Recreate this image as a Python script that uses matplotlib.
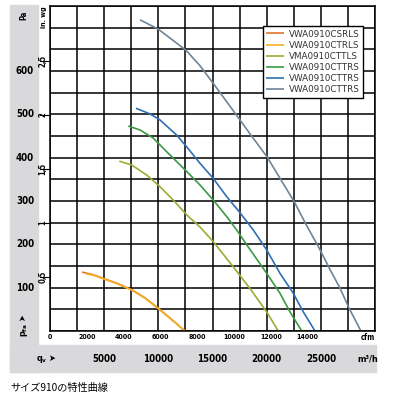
import matplotlib.pyplot as plt
from matplotlib.patches import Rectangle
import matplotlib.transforms as mtransforms

# curve data, flow in m3/h, pressure in Pa
names = ['VWA0910CSRLS', 'VWA0910CTRLS', 'VMA0910CTTLS', 'VWA0910CTTRS', 'VWA0910CTTRS', 'VWA0910CTTRS']
colors = ['#e2762b', '#f4b222', '#9cac34', '#3a9a44', '#2f6fb3', '#6f8598']

q_orange = [2950, 3970, 4980, 6300, 7570, 8800, 9970, 11170, 12460]
p_orange = [136, 130, 121, 109, 95, 76, 53, 28, 0]
q_yellow = [3300, 3970, 4980, 6300, 7570, 8800, 9970, 11170, 12460]
p_yellow = [132, 129, 120, 108, 94, 75, 52, 27, 0]
q_olive = [6397, 7542, 8926, 10154, 11382, 12618, 13846, 15074, 16920, 18462, 20003, 21074]
p_olive = [392, 383, 360, 333, 302, 268, 240, 206, 148, 98, 44, 0]
q_green = [7228, 8308, 9535, 10920, 12462, 13846, 15074, 16311, 17234, 18157, 20003, 21231, 22154, 23234]
p_green = [473, 464, 445, 410, 372, 337, 302, 264, 233, 199, 133, 87, 44, 0]
q_blue = [7938, 9231, 10154, 11695, 12618, 13846, 15074, 16311, 17538, 18766, 20003, 21231, 22459, 23382, 24462]
p_blue = [514, 501, 487, 452, 425, 387, 352, 310, 273, 233, 187, 133, 87, 44, 0]
q_grey = [8310, 9970, 12550, 13850, 15231, 17538, 18462, 20030, 22551, 23696, 24767, 25846, 26769, 27600, 28700]
p_grey = [718, 697, 648, 612, 566, 487, 455, 402, 298, 243, 195, 142, 99, 53, 0]

pa_ticks = [100, 200, 300, 400, 500, 600]
inwg_ticks = [0.5, 1, 1.5, 2, 2.5]
inwg_labels = ['0,5', '1', '1,5', '2', '2,5']
cfm_ticks = [0, 2000, 4000, 6000, 8000, 10000, 12000, 14000]
m3h_ticks = [5000, 10000, 15000, 20000, 25000]

cond = ['Liberation Sans Narrow', 'DejaVu Sans']
lab_kw = dict(fontweight='bold', family=cond, fontstretch='condensed')
W, H = 395, 399

fig = plt.figure(figsize=(3.95, 3.99), dpi=100)

# grey L-shaped background
fig.patches.append(Rectangle((10 / W, 1 - 372 / H), 28 / W, 367 / H, transform=fig.transFigure,
                             color='#d9d9db', zorder=-5))
fig.patches.append(Rectangle((10 / W, 1 - 372 / H), 366 / W, 27 / H, transform=fig.transFigure,
                             color='#d9d9db', zorder=-5))

ax = fig.add_axes([50 / W, 1 - 331 / H, 325 / W, 325 / H])
ax.set_xlim(0, 30000)
ax.set_ylim(0, 750)
ax.set_xticks(range(0, 30001, 2500))
ax.set_yticks(range(0, 751, 50))
ax.grid(True, color='black', lw=1.1)
ax.tick_params(length=0, labelbottom=False, labelleft=False)
for s in ax.spines.values():
    s.set_linewidth(1.1)

series = [(q_orange, p_orange), (q_yellow, p_yellow), (q_olive, p_olive),
          (q_green, p_green), (q_blue, p_blue), (q_grey, p_grey)]
for (q, p), c, n in zip(series, colors, names):
    ax.plot(q, p, color=c, lw=1.2, label=n, solid_capstyle='butt', solid_joinstyle='round', clip_on=False)

leg = ax.legend(loc='upper right', bbox_to_anchor=(0.962, 0.937), fontsize=6.3,
                fancybox=False, framealpha=1, edgecolor='black', borderpad=0.35,
                handlelength=2.1, handletextpad=0.5, labelspacing=0.25, borderaxespad=0)
leg.get_frame().set_linewidth(1.0)
for t in leg.get_texts():
    t.set_color('#333333')

# Pa labels in grey strip
tr_pa = mtransforms.blended_transform_factory(fig.transFigure, ax.transData)
for v in pa_ticks:
    ax.text(25 / W, v, str(v), transform=tr_pa, ha='center', va='center', fontsize=7, **lab_kw)
fig.text(24 / W, 1 - 15 / H, 'Pa', rotation=90, ha='center', va='center', fontsize=5.5, **lab_kw)

# in wg labels and ticks
for v, lab in zip(inwg_ticks, inwg_labels):
    ax.text(43 / W, v * 249.09, lab, transform=tr_pa, rotation=90, ha='center', va='center',
            fontsize=5.5, **lab_kw)
    ax.plot([-900, 0], [v * 249.09] * 2, color='black', lw=0.8, clip_on=False)
fig.text(44 / W, 1 - 17 / H, 'in. wg', rotation=90, ha='center', va='center', fontsize=5, **lab_kw)

# cfm labels below axis
tr_x = mtransforms.blended_transform_factory(ax.transData, fig.transFigure)
for v in cfm_ticks:
    ax.text(v * 1.699, 1 - 337 / H, str(v), transform=tr_x, ha='center', va='center',
            fontsize=5, **lab_kw)
ax.text(29350, 1 - 337 / H, 'cfm', transform=tr_x, ha='center', va='center', fontsize=5.5, **lab_kw)

# m3/h labels in grey band
for v in m3h_ticks:
    ax.text(v, 1 - 359 / H, str(v), transform=tr_x, ha='center', va='center', fontsize=7, **lab_kw)
ax.text(29300, 1 - 359 / H, 'm³/h', transform=tr_x, ha='center', va='center', fontsize=6.5, **lab_kw)
fig.text(47 / W, 1 - 359 / H, 'q$_\\mathregular{v}$ ➤', ha='center', va='center', fontsize=6.5, **lab_kw)
fig.text(24 / W, 1 - 325 / H, 'p$_\\mathregular{fa}$ ➤', rotation=90, ha='center', va='center',
         fontsize=6.5, **lab_kw)

fig.text(10 / W, 1 - 388 / H, 'サイズ910の特性曲線', ha='left', va='center',
         fontsize=7.3, family=['Noto Sans CJK JP', 'DejaVu Sans'])

fig.savefig('out.png', dpi=100)
